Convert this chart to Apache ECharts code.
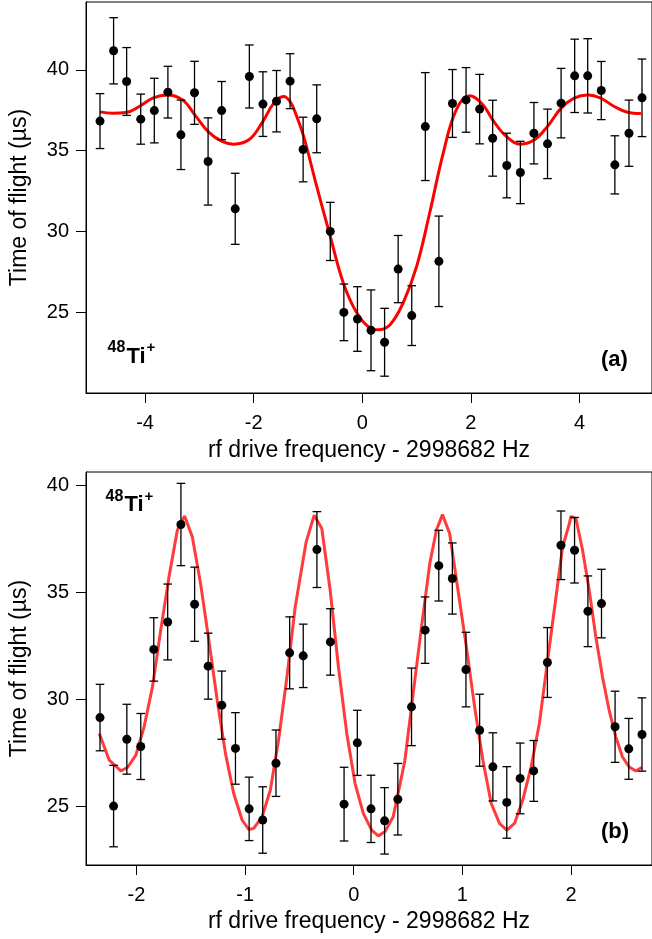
<!DOCTYPE html>
<html>
<head>
<meta charset="utf-8">
<script src="https://cdn.jsdelivr.net/npm/echarts@6/dist/echarts.min.js"></script>
<style>
html,body{margin:0;padding:0;background:#fff;}
#chart{width:652px;height:939px;}
</style>
</head>
<body>
<div id="chart"></div>
<script>
// ---------- Panel (a) data ----------
const aX = [-4.83,-4.58,-4.34,-4.08,-3.83,-3.58,-3.34,-3.09,-2.84,-2.59,-2.34,-2.08,-1.83,-1.58,-1.33,-1.09,-0.84,-0.59,-0.34,-0.09,0.16,0.41,0.66,0.91,1.16,1.41,1.66,1.91,2.16,2.40,2.66,2.91,3.16,3.41,3.66,3.91,4.15,4.40,4.65,4.91,5.15];
const aY = [36.83,41.18,39.28,36.95,37.48,38.62,35.98,38.58,34.33,37.48,31.40,39.59,37.88,38.06,39.30,35.07,36.97,30.00,24.99,24.58,23.88,23.14,27.67,24.79,36.49,28.15,37.92,38.14,37.57,35.77,34.08,33.65,36.08,35.42,37.94,39.63,39.63,38.72,34.12,36.08,38.27];
const aErr = [1.70,2.05,2.10,1.55,2.00,1.60,2.15,1.95,2.70,1.80,2.20,1.95,2.00,1.90,1.70,2.00,2.10,1.80,1.75,2.00,2.50,2.10,2.08,1.85,3.34,2.80,2.10,2.00,2.15,2.35,2.00,1.93,1.90,2.15,2.15,2.27,2.30,1.80,1.80,2.05,2.40];
const aFitX = [-4.83,-4.60,-4.35,-4.11,-3.86,-3.59,-3.31,-3.07,-2.83,-2.58,-2.37,-2.09,-1.85,-1.63,-1.45,-1.33,-1.23,-1.08,-0.84,-0.59,-0.35,-0.10,0.14,0.29,0.51,0.75,1.00,1.24,1.49,1.73,1.98,2.22,2.40,2.65,2.92,3.17,3.41,3.66,3.90,4.15,4.39,4.64,4.88,5.13];
const aFitY = [37.40,37.32,37.36,37.73,38.25,38.45,38.14,37.15,36.15,35.57,35.40,35.67,36.70,37.94,38.35,38.04,37.32,35.88,32.79,29.69,26.81,24.95,24.03,23.92,24.23,25.57,27.84,31.14,34.85,37.53,38.39,37.84,36.91,35.88,35.40,35.67,36.50,37.63,38.25,38.45,38.25,37.73,37.38,37.30];
const aTicks = [-4,-2,0,2,4];
const aYTicks = [25,30,35,40];

// ---------- Panel (b) data ----------
const bX = [-2.336,-2.211,-2.089,-1.961,-1.841,-1.713,-1.591,-1.465,-1.340,-1.215,-1.089,-0.963,-0.838,-0.716,-0.590,-0.465,-0.339,-0.215,-0.089,0.033,0.159,0.284,0.406,0.532,0.657,0.783,0.908,1.033,1.159,1.281,1.409,1.532,1.657,1.783,1.908,2.033,2.156,2.281,2.406,2.532,2.654];
const bY = [29.16,25.03,28.15,27.81,32.34,33.62,38.17,34.45,31.56,29.74,27.72,24.90,24.38,27.03,32.18,32.04,37.00,32.69,25.12,27.98,24.90,24.34,25.35,29.66,33.24,36.25,35.65,31.40,28.57,26.86,25.20,26.32,26.67,31.73,37.20,36.97,34.12,34.48,28.73,27.70,28.37];
const bErr = [1.55,1.90,1.63,1.54,1.48,1.77,1.92,1.73,1.54,1.59,1.67,1.48,1.55,1.55,1.68,1.48,1.77,1.55,1.72,1.52,1.57,1.55,1.67,1.81,1.55,1.65,1.66,1.74,1.68,1.59,1.67,1.65,1.42,1.63,1.60,1.53,1.65,1.60,1.66,1.42,1.71];
const bFitX = [-2.343,-2.251,-2.144,-2.083,-2.006,-1.930,-1.853,-1.777,-1.701,-1.624,-1.557,-1.486,-1.410,-1.334,-1.257,-1.181,-1.105,-1.028,-0.967,-0.921,-0.844,-0.768,-0.692,-0.615,-0.539,-0.438,-0.364,-0.294,-0.217,-0.141,-0.064,0.012,0.088,0.165,0.226,0.287,0.363,0.440,0.471,0.547,0.624,0.700,0.761,0.817,0.883,0.960,1.037,1.113,1.189,1.266,1.342,1.409,1.480,1.556,1.633,1.709,1.785,1.862,1.923,1.985,2.000,2.046,2.107,2.168,2.229,2.290,2.351,2.413,2.473,2.535,2.596,2.651];
const bFitY = [28.42,27.17,26.67,26.83,27.41,28.73,30.59,33.24,35.72,37.90,38.57,37.59,35.41,32.77,29.97,27.49,25.62,24.38,23.94,23.99,24.53,25.77,28.11,31.06,34.32,37.36,38.60,37.98,35.10,31.53,28.42,26.09,24.69,23.91,23.64,23.83,24.53,26.39,27.17,30.28,33.39,36.35,37.90,38.63,37.75,35.10,32.46,29.66,27.17,25.15,24.22,23.91,24.22,25.31,26.86,28.88,31.84,34.79,37.12,38.21,38.55,38.44,36.97,35.10,32.92,31.06,29.51,28.26,27.33,26.86,26.67,26.83];
const bTicks = [-2,-1,0,1,2];
const bYTicks = [25,30,35,40];

const xTitle = 'rf drive frequency - 2998682 Hz';
const yTitle = 'Time of flight (µs)';

// ---------- build ----------
const FONT = '"Liberation Sans", Arial, Helvetica, sans-serif';
const zip = (xs, ys) => xs.map((x, i) => [x, ys[i]]);
const errData = (xs, ys, es) => xs.map((x, i) => [x, ys[i] - es[i], ys[i] + es[i]]);

function renderErr(params, api) {
  const x = api.value(0), lo = api.value(1), hi = api.value(2);
  const p1 = api.coord([x, hi]);
  const p2 = api.coord([x, lo]);
  const w = 4.3;
  const st = { stroke: '#000', lineWidth: 1.3 };
  return {
    type: 'group',
    children: [
      { type: 'line', shape: { x1: p1[0], y1: p1[1], x2: p2[0], y2: p2[1] }, style: st },
      { type: 'line', shape: { x1: p1[0] - w, y1: p1[1], x2: p1[0] + w, y2: p1[1] }, style: st },
      { type: 'line', shape: { x1: p2[0] - w, y1: p2[1], x2: p2[0] + w, y2: p2[1] }, style: st }
    ]
  };
}

function xAxis(idx, min, max, ticks, gap) {
  return {
    type: 'value', gridIndex: idx, min: min, max: max,
    name: xTitle, nameLocation: 'middle', nameGap: gap,
    nameTextStyle: { fontFamily: FONT, fontSize: 23, color: '#000' },
    axisLine: { show: true, onZero: false, lineStyle: { color: '#000', width: 1 } },
    axisTick: { show: true, inside: false, length: 10, customValues: ticks, lineStyle: { color: '#000', width: 1 } },
    axisLabel: { show: true, margin: 20, customValues: ticks, fontFamily: FONT, fontSize: 20, color: '#000',
      formatter: v => String(v) },
    splitLine: { show: false }
  };
}
function yAxis(idx, min, max, ticks) {
  return {
    type: 'value', gridIndex: idx, min: min, max: max,
    name: yTitle, nameLocation: 'middle', nameGap: 55,
    nameTextStyle: { fontFamily: FONT, fontSize: 23, color: '#000' },
    axisLine: { show: true, onZero: false, lineStyle: { color: '#000', width: 1 } },
    axisTick: { show: true, inside: false, length: 10, customValues: ticks, lineStyle: { color: '#000', width: 1 } },
    axisLabel: { show: true, margin: 17, customValues: ticks, fontFamily: FONT, fontSize: 20, color: '#000',
      formatter: v => String(v) },
    splitLine: { show: false }
  };
}

const chart = echarts.init(document.getElementById('chart'), null, { renderer: 'canvas' });
const txt = (t, x, y, size) => ({
  type: 'text', x: x, y: y, z: 100,
  style: { text: t, font: 'bold ' + size + 'px ' + FONT, fill: '#000', textAlign: 'left', textVerticalAlign: 'middle' }
});

chart.setOption({
  animation: false,
  backgroundColor: '#fff',
  grid: [
    { left: 85, top: 2, width: 568, height: 391, show: true, borderColor: '#000', borderWidth: 1, backgroundColor: 'transparent' },
    { left: 85, top: 472, width: 568, height: 393, show: true, borderColor: '#000', borderWidth: 1, backgroundColor: 'transparent' }
  ],
  xAxis: [
    xAxis(0, -5.088, 5.334, aTicks, 46),
    xAxis(1, -2.465, 2.746, bTicks, 45)
  ],
  yAxis: [
    yAxis(0, 20.0, 44.2, aYTicks),
    yAxis(1, 22.28, 40.62, bYTicks)
  ],
  series: [
    { type: 'line', xAxisIndex: 0, yAxisIndex: 0, data: zip(aFitX, aFitY), smooth: 0.4, showSymbol: false,
      lineStyle: { color: '#ff0000', width: 3 }, z: 2, silent: true },
    { type: 'custom', xAxisIndex: 0, yAxisIndex: 0, data: errData(aX, aY, aErr), renderItem: renderErr, z: 3 },
    { type: 'scatter', xAxisIndex: 0, yAxisIndex: 0, data: zip(aX, aY), symbol: 'circle', symbolSize: 9,
      itemStyle: { color: '#000', opacity: 1 }, z: 4 },

    { type: 'line', xAxisIndex: 1, yAxisIndex: 1, data: zip(bFitX, bFitY), smooth: false, showSymbol: false,
      lineStyle: { color: '#ff3b3b', width: 3 }, z: 2, silent: true },
    { type: 'custom', xAxisIndex: 1, yAxisIndex: 1, data: errData(bX, bY, bErr), renderItem: renderErr, z: 3 },
    { type: 'scatter', xAxisIndex: 1, yAxisIndex: 1, data: zip(bX, bY), symbol: 'circle', symbolSize: 9,
      itemStyle: { color: '#000', opacity: 1 }, z: 4 }
  ],
  graphic: [
    txt('48', 107.5, 348, 16), txt('Ti', 126.5, 357, 22), txt('+', 146.5, 348, 15),
    txt('(a)', 601, 360, 22),
    txt('48', 105.5, 497, 16), txt('Ti', 124.5, 505, 22), txt('+', 144.5, 497, 15),
    txt('(b)', 601, 832, 22)
  ]
});
</script>
</body>
</html>
